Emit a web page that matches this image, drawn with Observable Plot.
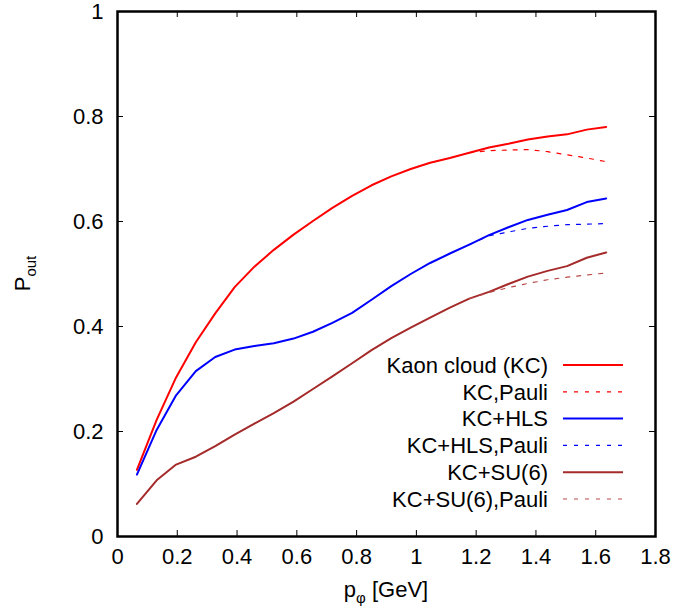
<!DOCTYPE html>
<html>
<head>
<meta charset="utf-8">
<script src="https://cdn.jsdelivr.net/npm/d3@7"></script>
<script src="https://cdn.jsdelivr.net/npm/@observablehq/plot@0.6"></script>
<style>
  html, body { margin: 0; padding: 0; background: #fff; }
  #chart svg { display: block; }
</style>
</head>
<body>
<div id="chart"></div>
<script>
// momentum grid p_phi [GeV]
const pGrid = [0.065, 0.131, 0.196, 0.262, 0.327, 0.392, 0.458, 0.523, 0.589, 0.654,
               0.719, 0.785, 0.850, 0.916, 0.981, 1.046, 1.112, 1.177, 1.243, 1.308,
               1.373, 1.439, 1.504, 1.570, 1.635];
// solid curves
const kaonCloud = [0.127, 0.222, 0.303, 0.370, 0.425, 0.475, 0.514, 0.546, 0.575, 0.601,
                   0.626, 0.649, 0.669, 0.686, 0.700, 0.712, 0.721, 0.731, 0.741, 0.748,
                   0.756, 0.762, 0.766, 0.775, 0.780];
const kcHLS = [0.118, 0.203, 0.269, 0.315, 0.342, 0.356, 0.363, 0.368, 0.377, 0.390,
               0.407, 0.426, 0.451, 0.477, 0.500, 0.521, 0.539, 0.556, 0.574, 0.589,
               0.603, 0.613, 0.622, 0.637, 0.644];
const kcSU6 = [0.062, 0.107, 0.137, 0.152, 0.172, 0.194, 0.215, 0.235, 0.257, 0.281,
               0.305, 0.330, 0.355, 0.378, 0.398, 0.417, 0.436, 0.453, 0.466, 0.481,
               0.495, 0.506, 0.515, 0.531, 0.541];
// Pauli-blocked curves (start at grid index 17)
const pauliStart = 17;
const kcPauli = [0.731, 0.735, 0.736, 0.737, 0.733, 0.727, 0.721, 0.714];
const kcHLSPauli = [0.556, 0.573, 0.580, 0.587, 0.591, 0.594, 0.595, 0.596];
const kcSU6Pauli = [0.453, 0.465, 0.474, 0.482, 0.489, 0.494, 0.498, 0.502];

const xTicks = [0, 0.2, 0.4, 0.6, 0.8, 1, 1.2, 1.4, 1.6, 1.8];
const yTicks = [0, 0.2, 0.4, 0.6, 0.8, 1];

const seriesNames = ["Kaon cloud (KC)", "KC,Pauli", "KC+HLS", "KC+HLS,Pauli", "KC+SU(6)", "KC+SU(6),Pauli"];
const seriesColors = ["#ff0000", "#ff0000", "#0000ff", "#0000ff", "#a52a2a", "#b84848"];
const seriesDashed = [false, true, false, true, false, true];

const full = (vals) => vals.map((v, i) => ({p: pGrid[i], v}));
const tail = (vals) => vals.map((v, i) => ({p: pGrid[pauliStart + i], v}));
const seriesData = [full(kaonCloud), tail(kcPauli), full(kcHLS), tail(kcHLSPauli), full(kcSU6), tail(kcSU6Pauli)];

const W = 696, H = 611, mL = 117, mR = 41, mT = 11, mB = 75;
const plotW = W - mL - mR, plotH = H - mT - mB;
const font = "'Liberation Sans', Arial, Helvetica, sans-serif";
const fs = 22;

const lineMarks = seriesData.map((d, i) => Plot.line(d, {
  x: "p", y: "v",
  stroke: seriesColors[i],
  strokeWidth: seriesDashed[i] ? 1.2 : 2,
  strokeDasharray: seriesDashed[i] ? "4,7" : null
}));

const chart = Plot.plot({
  width: W, height: H,
  marginLeft: mL, marginRight: mR, marginTop: mT, marginBottom: mB,
  style: {fontFamily: font, fontSize: fs + "px", background: "#fff", color: "#000"},
  x: {domain: [0, 1.8]},
  y: {domain: [0, 1]},
  marks: [
    // inward ticks on all four sides
    Plot.tickX(xTicks, {x: d => d, insetTop: plotH - 6, stroke: "#000", strokeWidth: 1}),
    Plot.tickX(xTicks, {x: d => d, insetBottom: plotH - 6, stroke: "#000", strokeWidth: 1}),
    Plot.tickY(yTicks, {y: d => d, insetRight: plotW - 6, stroke: "#000", strokeWidth: 1}),
    Plot.tickY(yTicks, {y: d => d, insetLeft: plotW - 6, stroke: "#000", strokeWidth: 1}),
    Plot.axisX(xTicks, {anchor: "bottom", tickSize: 0, tickPadding: 12, tickFormat: d => String(d), label: null, fontSize: fs}),
    Plot.axisY(yTicks, {anchor: "left", tickSize: 0, tickPadding: 14, tickFormat: d => String(d), label: null, fontSize: fs}),
    ...lineMarks,
    Plot.frame({stroke: "#000", strokeWidth: 2.5})
  ]
});

const svg = d3.select(chart);

// axis titles with subscripts
const xt = svg.append("text")
  .attr("x", mL + plotW / 2).attr("y", 597)
  .attr("text-anchor", "middle")
  .attr("font-family", font).attr("font-size", fs).attr("fill", "#000");
xt.append("tspan").text("p");
xt.append("tspan").attr("dy", 6).attr("font-size", 15).text("φ");
xt.append("tspan").attr("dy", -6).text(" [GeV]");

const yt = svg.append("text")
  .attr("transform", `translate(30,${mT + plotH / 2}) rotate(-90)`)
  .attr("text-anchor", "middle")
  .attr("font-family", font).attr("font-size", fs).attr("fill", "#000");
yt.append("tspan").text("P");
yt.append("tspan").attr("dy", 6).attr("font-size", 15).text("out");

// key
const key = svg.append("g").attr("font-family", font).attr("font-size", fs);
seriesNames.forEach((name, i) => {
  const yy = 365 + i * 26.8;
  key.append("text").attr("x", 548).attr("y", yy).attr("dy", "0.35em")
    .attr("text-anchor", "end").attr("fill", "#000").text(name);
  key.append("line").attr("x1", 563).attr("x2", 623).attr("y1", yy).attr("y2", yy)
    .attr("stroke", seriesColors[i])
    .attr("stroke-width", seriesDashed[i] ? 1.2 : 2)
    .attr("stroke-dasharray", seriesDashed[i] ? "4,7" : null);
});

document.getElementById("chart").appendChild(chart);
</script>
</body>
</html>
